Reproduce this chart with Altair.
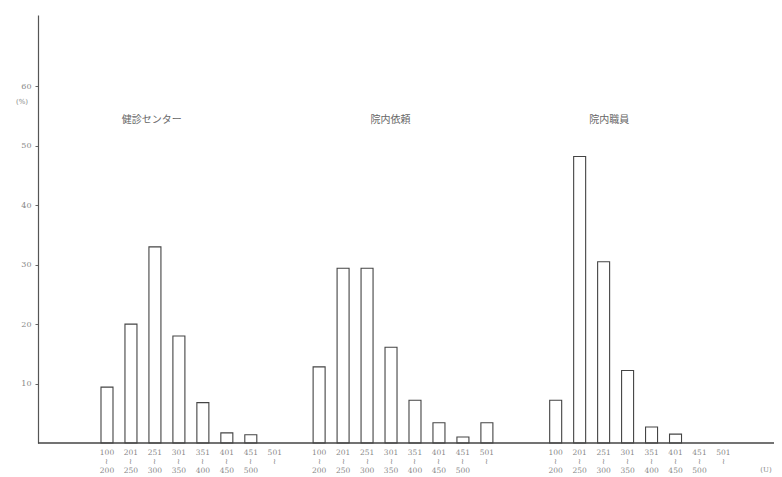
import altair as alt
import pandas as pd

# ---- data ----
groups = ["健診センター", "院内依頼", "院内職員"]
range_lo = ["100", "201", "251", "301", "351", "401", "451", "501"]
range_hi = ["200", "250", "300", "350", "400", "450", "500", ""]
values_kenshin = [9.4, 20.0, 33.0, 18.0, 6.8, 1.7, 1.4, 0]
values_irai = [12.8, 29.4, 29.4, 16.1, 7.2, 3.4, 1.0, 3.4]
values_shokuin = [7.2, 48.2, 30.5, 12.2, 2.7, 1.5, 0, 0]
y_ticks = [10, 20, 30, 40, 50, 60]

# ---- layout (slot units along the x scale) ----
group_offset = [0, 8.85, 18.72]
label_slot = [0.62, 2.14, 1.4]

series = [values_kenshin, values_irai, values_shokuin]
rows = []
for g, vals, off in zip(groups, series, group_offset):
    for i, (lo, hi, v) in enumerate(zip(range_lo, range_hi, vals)):
        txt = lo + "\n≀" + ("\n" + hi if hi else "")
        rows.append({"group": g, "slot": off + i, "value": v, "range": txt})
df = pd.DataFrame(rows)
df_bars = df[df["value"] > 0]

df_groups = pd.DataFrame({"group": groups,
                          "slot": [o + s for o, s in zip(group_offset, label_slot)]})

xscale = alt.Scale(domain=[-2.67, 27.62], nice=False, zero=False)
yscale = alt.Scale(domain=[0, 72], nice=False)
yaxis = alt.Axis(values=y_ticks, title=None, grid=False, tickSize=3,
                 tickColor="#666", labelFontSize=8, labelColor="#888",
                 labelPadding=4, domainColor="#555", domainWidth=1.2,
                 labelFont="DejaVu Serif")

bars = alt.Chart(df_bars).mark_bar(
    size=12, fill="white", stroke="#444", strokeWidth=1.1
).encode(
    x=alt.X("slot:Q", scale=xscale, axis=None),
    y=alt.Y("value:Q", scale=yscale, axis=yaxis),
)

baseline = alt.Chart(pd.DataFrame({"value": [0]})).mark_rule(
    color="#444", strokeWidth=1.3
).encode(y=alt.Y("value:Q", scale=yscale, axis=yaxis), x=alt.value(0), x2=alt.value(736))

range_text = alt.Chart(df).mark_text(
    baseline="top", align="center", fontSize=7.5, color="#888",
    lineBreak="\n", lineHeight=9, font="DejaVu Serif"
).encode(
    x=alt.X("slot:Q", scale=xscale, axis=None),
    y=alt.value(434),
    text="range:N",
)

group_text = alt.Chart(df_groups).mark_text(
    align="left", baseline="middle", fontSize=10, color="#666",
    font="Noto Sans CJK JP"
).encode(
    x=alt.X("slot:Q", scale=xscale, axis=None),
    y=alt.value(105),
    text="group:N",
)

pct = alt.Chart(pd.DataFrame({"t": ["(%)"]})).mark_text(
    fontSize=7, color="#888", font="DejaVu Serif"
).encode(x=alt.value(-16), y=alt.value(87), text="t:N")

unit = alt.Chart(pd.DataFrame({"t": ["(U)"]})).mark_text(
    fontSize=7, color="#888", font="DejaVu Serif"
).encode(x=alt.value(728), y=alt.value(455), text="t:N")

chart = alt.layer(bars, baseline, range_text, group_text, pct, unit).properties(
    width=736, height=428,
    background="white",
    autosize=alt.AutoSizeParams(type="none"),
    padding={"left": 30, "top": 7, "right": 0, "bottom": 32},
).configure_view(stroke=None, strokeWidth=0)

chart.save("out.html", embed_options={"renderer": "svg", "actions": False})
